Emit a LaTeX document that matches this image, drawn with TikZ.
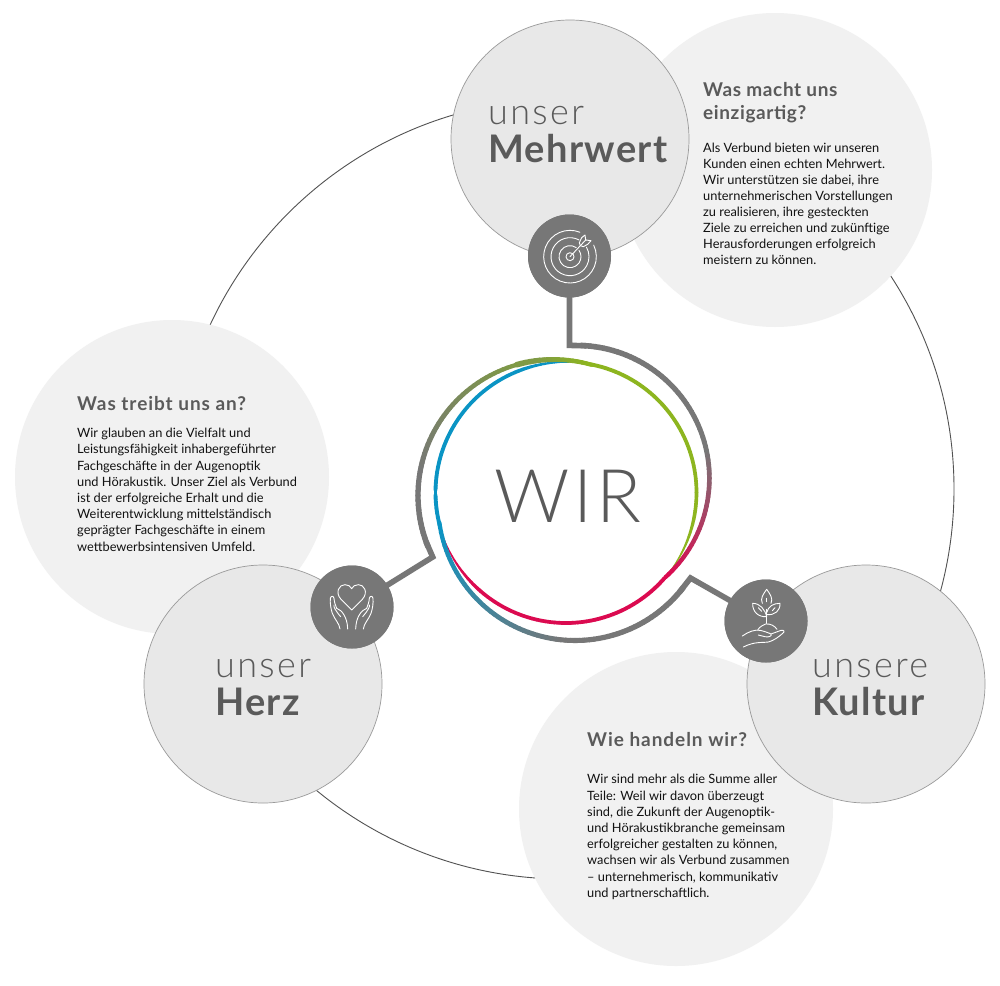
\documentclass[tikz,border=0pt]{standalone}
\usepackage{fontspec}
\setmainfont{Lato}
\newfontfamily\latolight{Lato Light}
\newfontfamily\wirfont[LetterSpace=5]{Lato Light}
\newfontfamily\labold[LetterSpace=3.5]{Lato Bold}
\newfontfamily\lahead[LetterSpace=5]{Lato Bold}
\newfontfamily\laheadb[LetterSpace=3.2]{Lato Bold}
\newfontfamily\lalt[LetterSpace=6.5]{Lato Light}
\definecolor{lightc}{HTML}{F1F1F1}
\definecolor{midc}{HTML}{E8E8E8}
\definecolor{edgec}{HTML}{9A9A9A}
\definecolor{ringg}{HTML}{777777}
\definecolor{txtg}{HTML}{5A5A5A}
\definecolor{bodyc}{HTML}{111111}
\definecolor{crim}{HTML}{DB0A50}
\definecolor{blueb}{HTML}{0A94C4}
\definecolor{olive}{HTML}{7F9A45}
\definecolor{greeng}{HTML}{8DB51F}
\tikzset{
  lightdisc/.style={circle,fill=lightc,minimum size=314pt,inner sep=0pt},
  middisc/.style={circle,fill=midc,draw=edgec,line width=.7pt,minimum size=238pt,inner sep=0pt},
  icondisc/.style={circle,fill=ringg,minimum size=83pt,inner sep=0pt},
  thinring/.style={circle,draw=black!68,line width=.9pt,minimum size=780pt,inner sep=0pt},
  conn/.style={draw=ringg,line width=5.6pt,line join=miter,miter limit=10},
  iconline/.style={draw=white,line width=.9pt,line cap=round,line join=round},
  light/.style={anchor=base west,text=txtg,font=\lalt\fontsize{36}{36}\selectfont,inner sep=0pt},
  strong/.style={anchor=base west,text=txtg,font=\labold\fontsize{38}{38}\selectfont,inner sep=0pt},
  heading/.style={anchor=base west,text=txtg,font=\lahead\fontsize{19}{23}\selectfont,inner sep=0pt},
  headingb/.style={heading,font=\laheadb\fontsize{19}{23}\selectfont},
  body/.style={anchor=north west,align=left,text=bodyc,font=\fontsize{12.8}{16.2}\selectfont,inner sep=0pt},
  bodyb/.style={body,font=\fontsize{12.8}{16}\selectfont}
}
% #1 cx, #2 cy, #3 r, #4 from, #5 to, #6 blend start, #7 blend end, #8 colour a, #9 colour b
\newcommand{\ringarc}[9]{%
  \foreach \a in {#4,\numexpr#4+2\relax,...,#5}{%
    \pgfmathsetmacro{\mix}{100*max(0,min(1,(\a-#6)/(#7-#6)))}%
    \pgfmathsetmacro{\wd}{\ringwA+(\ringwB-\ringwA)*(\a-#4)/(#5-#4)}%
    \pgfmathsetmacro{\tp}{\ringtaper*max(0,1-(#5-\a)/30)}%
    \pgfmathsetmacro{\wd}{\wd*(1-\tp)}%
    \colorlet{segc}{#9!\mix!#8}%
    \draw[segc,line width=\wd pt,line cap=round]
      ({#1+#3*sin(\a)},{#2-#3*cos(\a)}) -- ({#1+#3*sin(\a+2)},{#2-#3*cos(\a+2)});
  }%
}
\begin{document}
\begin{tikzpicture}[x=1pt,y=-1pt]
\useasboundingbox[fill=white] (0,0) rectangle (1000,985);
\node[thinring] (orbit) at (564,489) {};
\node[lightdisc] (infoM) at (775,170) {};
\node[lightdisc] (infoH) at (172,477) {};
\node[lightdisc] (infoK) at (676,809) {};
\node[middisc] (discM) at (570,139) {};
\node[middisc] (discH) at (263,684) {};
\node[middisc] (discK) at (866,684) {};

% connectors
\coordinate (elbowM) at (569.5,345.4);
\coordinate (elbowH) at (432.7,557);
\coordinate (elbowK) at (690.5,578);
\coordinate (ringM) at ({576.4+133*sin(4)},{478.4-133*cos(4)});
\coordinate (ringH) at ({554+136*sin(250)},{495.5-136*cos(250)});
\coordinate (ringK) at ({575+137*sin(130)},{503.5-137*cos(130)});
\node[icondisc] (iconM) at (569.5,256) {};
\node[icondisc] (iconH) at (352,607) {};
\node[icondisc] (iconK) at (766,621) {};
\draw[conn] (iconM.center) -- (elbowM) -- (ringM);
\draw[conn] (iconH.center) -- (elbowH) -- (ringH);
\draw[conn] (iconK.center) -- (elbowK) -- (ringK);
\node[icondisc] at (iconM) {};
\node[icondisc] at (iconH) {};
\node[icondisc] at (iconK) {};

% inner circle, three tapered arcs
\def\ringwA{3.9}\def\ringwB{3.5}\def\ringtaper{.85}
\ringarc{566}{492.5}{130.5}{10}{129}{0}{1}{greeng}{greeng}
\ringarc{566}{492.5}{130.5}{131}{251}{0}{1}{crim}{crim}
\ringarc{566}{492.5}{130.5}{255}{368}{0}{1}{blueb}{blueb}
% outer arcs
\def\ringwA{5.6}\def\ringwB{4.2}\def\ringtaper{0}
\ringarc{554}{495.5}{136}{248}{344}{280}{344}{ringg}{olive}
\ringarc{554}{495.5}{136}{344}{374}{352}{374}{olive}{greeng}
\ringarc{575}{503.5}{137}{128}{260}{185}{260}{ringg}{blueb}
\ringarc{576.4}{478.4}{133}{2}{136}{78}{136}{ringg}{crim}

% target icon
\begin{scope}[shift={(520,210)},scale=1/3,iconline]
  \draw (150,140) ++(-68:79) arc[start angle=-68,end angle=-386,radius=79];
  \draw (150,140) ++(-62:57) arc[start angle=-62,end angle=-390,radius=57];
  \draw (150,140) ++(-55:33) arc[start angle=-55,end angle=-395,radius=33];
  \draw (150,140) ++(-50:12) arc[start angle=-50,end angle=-400,radius=12];
  \draw (150,140) -- (197,90);
  \draw (181,107) -- (178,98) -- (185,83) -- (195,75) -- (197,90) -- (213,92) -- (203,103) -- (190,110) -- cycle;
\end{scope}

% heart icon
\begin{scope}[shift={(300,555)},scale=1/3,iconline]
  \draw (155,165) -- (123,133) .. controls (104,112) and (118,88) .. (135,89)
        .. controls (145,89) and (152,94) .. (155,101)
        .. controls (158,94) and (165,89) .. (175,89)
        .. controls (192,88) and (206,112) .. (187,133) -- cycle;
  \draw (120,222) .. controls (118,205) and (105,195) .. (97,175) .. controls (92,160) and (90,145) .. (91,130)
        .. controls (92,122) and (101,122) .. (102,130) .. controls (103,142) and (106,150) .. (110,160);
  \draw (102,150) .. controls (100,155) and (105,165) .. (122,185);
  \draw (110,160) .. controls (125,165) and (142,185) .. (143,222);
  \draw (190,222) .. controls (192,205) and (205,195) .. (213,175) .. controls (218,160) and (220,145) .. (219,130)
        .. controls (218,122) and (209,122) .. (208,130) .. controls (207,142) and (204,150) .. (200,160);
  \draw (208,150) .. controls (210,155) and (205,165) .. (188,185);
  \draw (200,160) .. controls (185,165) and (168,185) .. (167,222);
\end{scope}

% plant icon
\begin{scope}[shift={(715,570)},scale=1/3,iconline]
  \draw (155,58) .. controls (145,72) and (135,85) .. (142,100);
  \draw (155,58) .. controls (165,72) and (175,85) .. (168,100);
  \draw (155,85) -- (155,95);
  \draw (155,160) -- (155,118);
  \draw (155,140) .. controls (150,118) and (135,100) .. (113,100) .. controls (112,125) and (130,142) .. (155,140);
  \draw (155,128) .. controls (160,108) and (175,100) .. (195,100) .. controls (196,122) and (180,136) .. (155,134);
  \draw (130,113) -- (140,124);
  \draw (180,113) -- (172,122);
  \draw (128,180) .. controls (135,168) and (145,166) .. (152,162) .. controls (165,160) and (180,168) .. (186,178);
  \draw (82,198) .. controls (100,185) and (120,178) .. (135,181) .. controls (145,183) and (160,188) .. (168,192)
        .. controls (172,198) and (160,203) .. (150,200) -- (130,195);
  \draw (168,192) -- (198,181) .. controls (208,179) and (210,186) .. (203,190)
        .. controls (190,202) and (175,212) .. (160,216) .. controls (145,219) and (120,213) .. (85,231);
\end{scope}

% labels
\node[light] (l1) at (488,124) {unser};
\node[strong] (s1) at (488,162.5) {Mehrwert};
\node[light] (l2) at (215,677) {unser};
\node[strong] (s2) at (215,715) {Herz};
\node[light] (l3) at (812,677) {unsere};
\node[strong] (s3) at (812,715) {Kultur};
\node[anchor=base,text=txtg,font=\wirfont\fontsize{74}{74}\selectfont,inner sep=0pt] (wir) at (568,522) {WIR};

\node[headingb] (h1a) at (703,96.5) {Was macht uns};
\node[headingb] (h1b) at (703,119.5) {einzigartig?};
\node[heading] (h2) at (77,410) {Was treibt uns an?};
\node[heading] (h3) at (587,746) {Wie handeln wir?};

\node[bodyb] (b1) at (703,143) {Als Verbund bieten wir unseren\\Kunden einen echten Mehrwert.\\Wir unterstützen sie dabei, ihre\\unternehmerischen Vorstellungen\\zu realisieren, ihre gesteckten\\Ziele zu erreichen und zukünftige\\Herausforderungen erfolgreich\\meistern zu können.};
\node[body] (b2) at (77,428) {Wir glauben an die Vielfalt und\\Leistungsfähigkeit inhabergeführter\\Fachgeschäfte in der Augenoptik\\und Hörakustik. Unser Ziel als Verbund\\ist der erfolgreiche Erhalt und die\\Weiterentwicklung mittelständisch\\geprägter Fachgeschäfte in einem\\wettbewerbsintensiven Umfeld.};
\node[body] (b3) at (587,774.2) {Wir sind mehr als die Summe aller\\Teile: Weil wir davon überzeugt\\sind, die Zukunft der Augenoptik-\\und Hörakustikbranche gemeinsam\\erfolgreicher gestalten zu können,\\wachsen wir als Verbund zusammen\\– unternehmerisch, kommunikativ\\und partnerschaftlich.};
\end{tikzpicture}
\end{document}
